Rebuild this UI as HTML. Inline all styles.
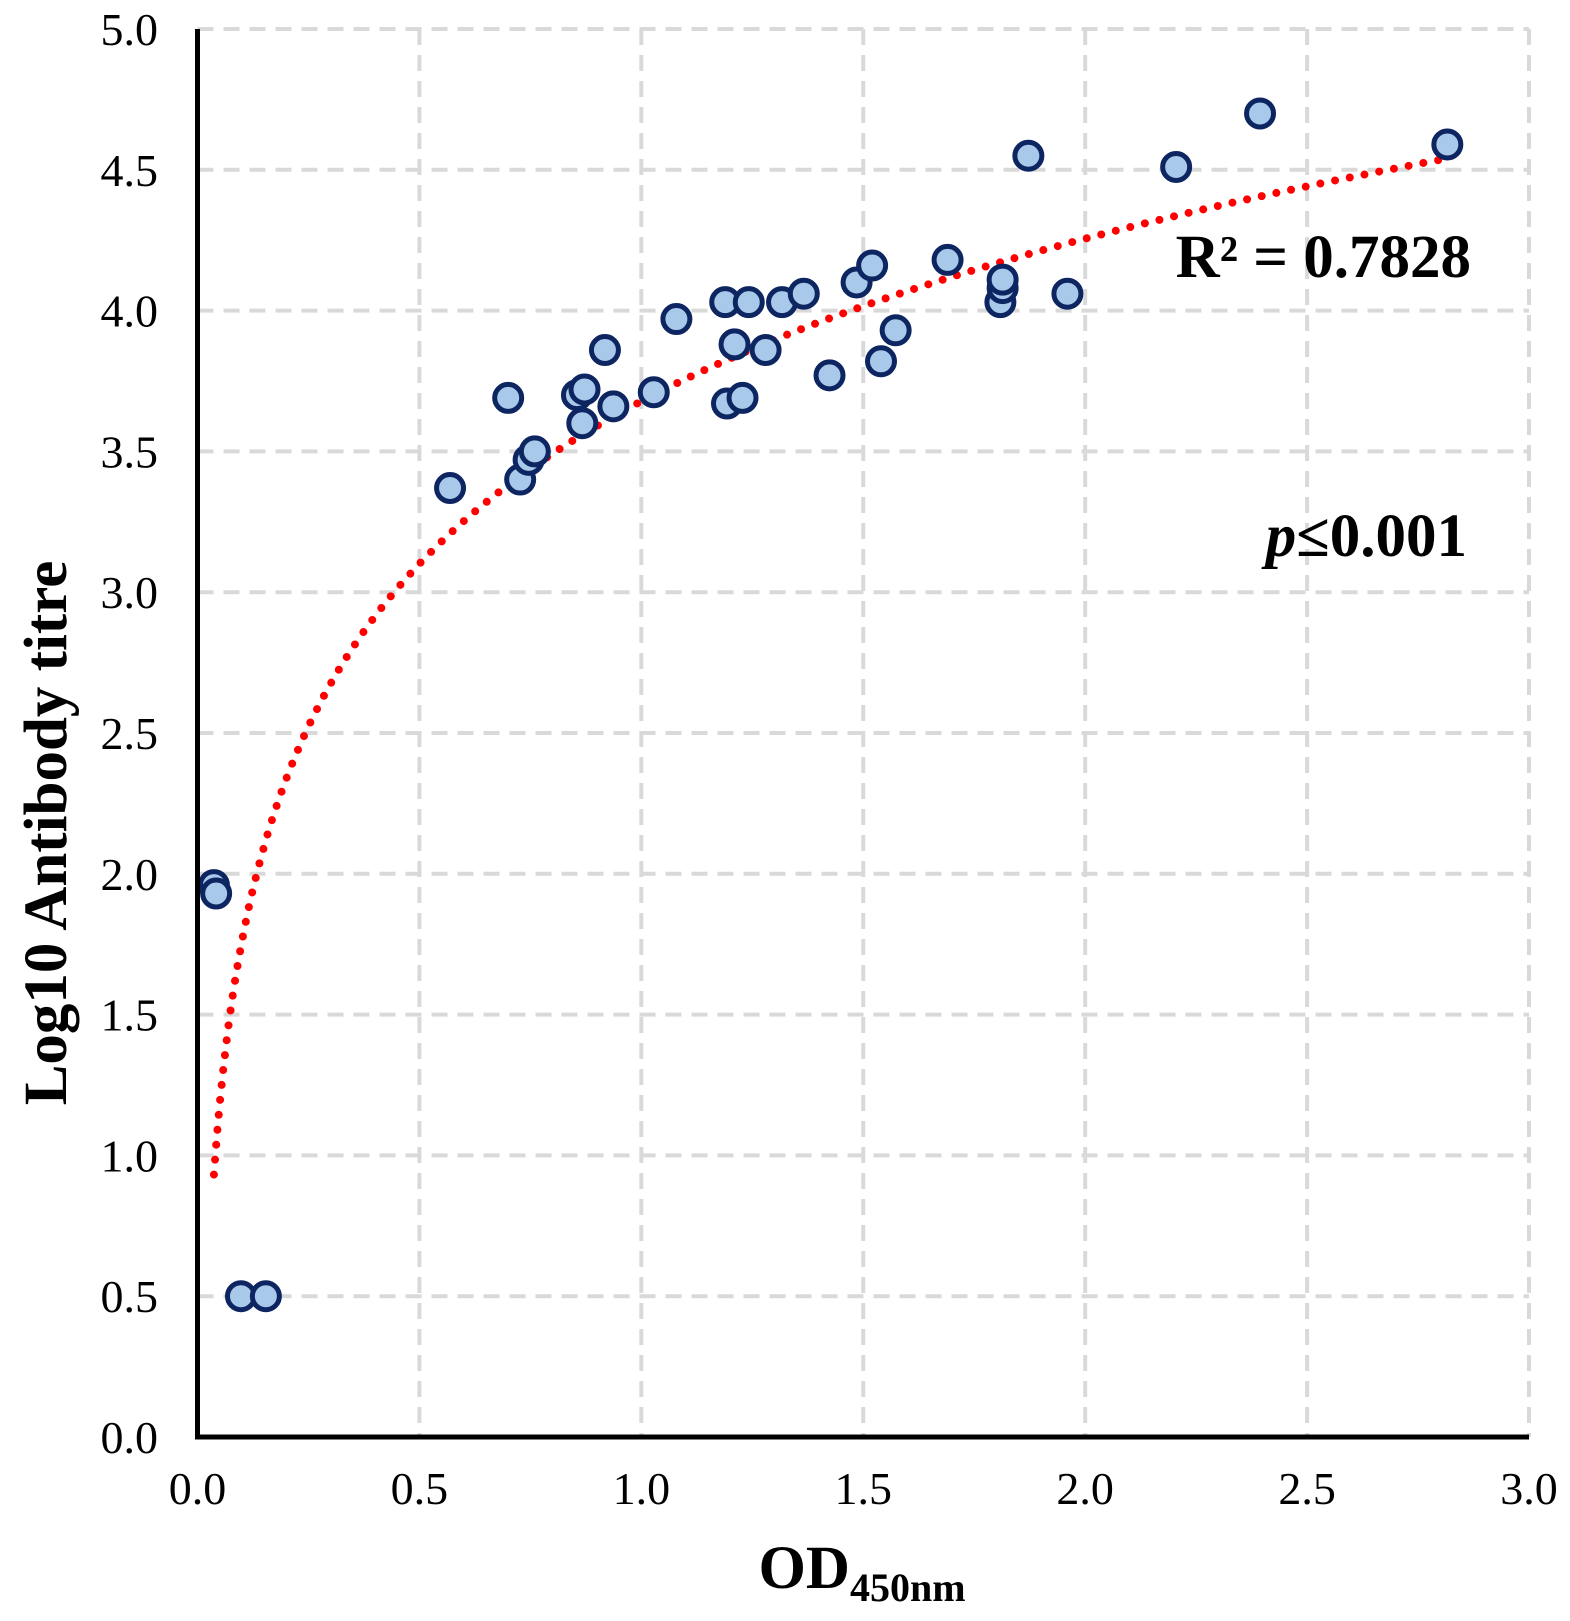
<!DOCTYPE html>
<html><head><meta charset="utf-8"><style>html,body{margin:0;padding:0;background:#fff}</style></head>
<body>
<svg id="chart" width="1570" height="1616" viewBox="0 0 1570 1616" xmlns="http://www.w3.org/2000/svg" font-family="'Liberation Serif', serif">
<g id="grid"></g>
<g id="trend"></g>
<g id="points"></g>
<g id="axes"></g>
<text x="1471" y="277" text-anchor="end" font-size="61" font-weight="bold">R² = 0.7828</text>
<text x="1467" y="556" text-anchor="end" font-size="61" font-weight="bold"><tspan font-style="italic">p</tspan>≤0.001</text>
<text x="862" y="1588" text-anchor="middle" font-size="61" font-weight="bold">OD<tspan font-size="40" dy="13">450nm</tspan></text>
<text transform="translate(66,833) rotate(-90)" text-anchor="middle" font-size="61" font-weight="bold">Log10 Antibody titre</text>
</svg>
<script>
const xTicks=[0,0.5,1.0,1.5,2.0,2.5,3.0];
const yTicks=[0,0.5,1.0,1.5,2.0,2.5,3.0,3.5,4.0,4.5,5.0];
const xVals=[0.037,0.042,0.098,0.154,0.569,0.70,0.727,0.746,0.76,0.855,0.872,0.867,0.918,0.937,1.028,1.079,1.189,1.193,1.21,1.228,1.242,1.28,1.317,1.366,1.424,1.485,1.52,1.54,1.573,1.69,1.809,1.814,1.814,1.872,1.96,2.205,2.394,2.816];
const yVals=[1.96,1.93,0.5,0.5,3.37,3.69,3.40,3.47,3.50,3.70,3.72,3.60,3.86,3.66,3.71,3.97,4.03,3.67,3.88,3.69,4.03,3.86,4.03,4.06,3.77,4.10,4.16,3.82,3.93,4.18,4.03,4.08,4.11,4.55,4.06,4.51,4.70,4.59];
const trendA=0.833, trendB=3.678;
const NS='http://www.w3.org/2000/svg';
const X0=197.5,X1=1529,Y0=1437,Y1=29;
const sx=v=>X0+(X1-X0)*v/3, sy=v=>Y0-(Y0-Y1)*v/5;
function mk(t,a,p){const e=document.createElementNS(NS,t);for(const k in a)e.setAttribute(k,a[k]);p.appendChild(e);return e;}
const grid=document.getElementById('grid'),axes=document.getElementById('axes');
xTicks.forEach(v=>{
 if(v>0){const l=mk('line',{x1:sx(v),x2:sx(v),y1:Y1,y2:Y0,stroke:'#d9d9d9','stroke-width':4,'stroke-dasharray':'16 10'},grid);
 
 }
 const t=mk('text',{x:sx(v),y:1504,'text-anchor':'middle','font-size':46},axes);t.textContent=v.toFixed(1);
 
 
});
yTicks.forEach(v=>{
 if(v>0){const l=mk('line',{x1:X0,x2:X1,y1:sy(v),y2:sy(v),stroke:'#d9d9d9','stroke-width':4,'stroke-dasharray':'16 10'},grid);
 
 }
 const t=mk('text',{x:158,y:sy(v)+16,'text-anchor':'end','font-size':46},axes);t.textContent=v.toFixed(1);
 
 
});
const ax=mk('path',{d:`M${X0} ${Y1} V${Y0} H${X1}`,fill:'none',stroke:'#000','stroke-width':5},axes);


const xmin=Math.min(...xVals),xmax=Math.max(...xVals);
let pts=[];for(let i=0;i<=400;i++){const x=xmin+(xmax-xmin)*i/400;pts.push(sx(x).toFixed(1)+','+sy(trendA*Math.log(x)+trendB).toFixed(1));}
const tl=mk('polyline',{points:pts.join(' '),fill:'none',stroke:'#ff0000','stroke-width':8,'stroke-linecap':'round','stroke-dasharray':'0 15'},document.getElementById('trend'));


const pg=document.getElementById('points');
xVals.forEach((x,i)=>{
 const c=mk('circle',{cx:sx(x),cy:sy(yVals[i]),r:13.5,fill:'#a9c9ea',stroke:'#0d2561','stroke-width':5},pg);
 
 
});
</script>
</body></html>
